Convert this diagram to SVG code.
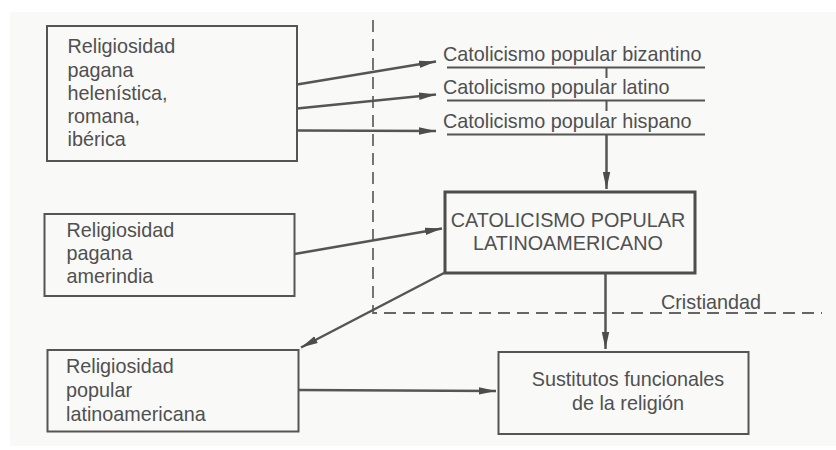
<svg xmlns="http://www.w3.org/2000/svg" width="836" height="450" viewBox="0 0 836 450">
<defs>
<marker id="ah" markerUnits="userSpaceOnUse" markerWidth="18" markerHeight="8" refX="17" refY="4" orient="auto">
<path d="M0,0.3 L17,4 L0,7.7 Z" fill="#4d4d4d"/>
</marker>
<style>
text{font-family:"Liberation Sans",Arial,sans-serif;font-size:19.8px;fill:#505050}
.box{fill:none;stroke:#555;stroke-width:2}
.main{fill:none;stroke:#4d4d4d;stroke-width:3}
.ln{fill:none;stroke:#555;stroke-width:2}
.ar{fill:none;stroke:#555;stroke-width:2.5;marker-end:url(#ah)}
.dash{fill:none;stroke:#666;stroke-width:1.8;stroke-dasharray:12,7}
.mid{text-anchor:middle}
</style>
</defs>
<rect x="0" y="0" width="836" height="450" fill="#ffffff"/>
<rect x="10" y="12" width="826" height="434" fill="#f9f9f8"/>

<g id="dividers">
<path class="dash" d="M373,20 V313 H822"/>
<text x="661" y="309">Cristiandad</text>
</g>

<g id="n-pagana-helenistica">
<rect class="box" x="47" y="26" width="250" height="135"/>
<text x="67.5" y="53">Religiosidad</text>
<text x="67.5" y="76.5">pagana</text>
<text x="67.5" y="100">helenística,</text>
<text x="67.5" y="123">romana,</text>
<text x="67.5" y="146">ibérica</text>
</g>

<g id="n-bizantino">
<text x="443" y="61">Catolicismo popular bizantino</text>
<line class="ln" x1="447" y1="67.5" x2="705" y2="67.5"/>
</g>
<g id="n-latino">
<text x="443" y="94">Catolicismo popular latino</text>
<line class="ln" x1="447" y1="100.5" x2="705" y2="100.5"/>
</g>
<g id="n-hispano">
<text x="443" y="128">Catolicismo popular hispano</text>
<line class="ln" x1="447" y1="134.5" x2="705" y2="134.5"/>
</g>

<g id="n-clat">
<rect class="main" x="445" y="192" width="250" height="81"/>
<text class="mid" x="568" y="227">CATOLICISMO POPULAR</text>
<text class="mid" x="568" y="250">LATINOAMERICANO</text>
</g>

<g id="n-pagana-amerindia">
<rect class="box" x="44.5" y="214" width="250" height="82"/>
<text x="66.5" y="236.5">Religiosidad</text>
<text x="66.5" y="260">pagana</text>
<text x="66.5" y="283">amerindia</text>
</g>

<g id="n-popular-lat">
<rect class="box" x="47.5" y="350" width="251" height="81.5"/>
<text x="66" y="373">Religiosidad</text>
<text x="66" y="396.5">popular</text>
<text x="66" y="420.5">latinoamericana</text>
</g>

<g id="n-sustitutos">
<rect class="box" x="498.5" y="352" width="250" height="82"/>
<text class="mid" x="628" y="386">Sustitutos funcionales</text>
<text class="mid" x="628" y="410">de la religión</text>
</g>

<g id="connectors">
<line class="ar" x1="297" y1="84.5" x2="436" y2="61.5"/>
<line class="ar" x1="297" y1="108.5" x2="436" y2="94.5"/>
<line class="ar" x1="297" y1="130.5" x2="436" y2="131"/>
<line class="ln" x1="606.5" y1="67.5" x2="606.5" y2="78"/>
<line class="ln" x1="606.5" y1="100.5" x2="606.5" y2="111"/>
<line class="ar" x1="606.5" y1="134.5" x2="606.5" y2="189"/>
<line class="ar" x1="294.5" y1="254" x2="442" y2="228.5"/>
<line class="ar" x1="445" y1="272.5" x2="301" y2="347.5"/>
<line class="ar" x1="605.5" y1="273" x2="605.5" y2="349"/>
<line class="ar" x1="298.5" y1="390" x2="496" y2="391"/>
</g>
</svg>
